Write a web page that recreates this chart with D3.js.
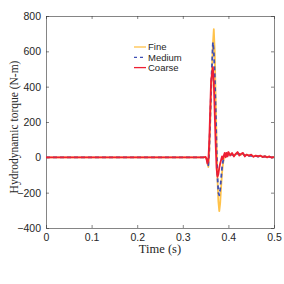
<!DOCTYPE html>
<html>
<head>
<meta charset="utf-8">
<script src="https://cdn.jsdelivr.net/npm/d3@7"></script>
<style>
  body { margin: 0; background: #fff; }
  svg { display: block; }
</style>
</head>
<body>
<div id="grafico"></div>
<script>
// --- data ---
const tempo = [0, 0.1, 0.2, 0.3, 0.345, 0.350, 0.352, 0.354, 0.356, 0.358, 0.360, 0.362, 0.364, 0.366,
  0.368, 0.370, 0.372, 0.374, 0.376, 0.378, 0.380, 0.382, 0.384, 0.386, 0.388, 0.390, 0.392, 0.394,
  0.396, 0.398, 0.400, 0.404, 0.408, 0.412, 0.416, 0.420, 0.424, 0.428, 0.432, 0.436, 0.440, 0.445,
  0.450, 0.455, 0.460, 0.465, 0.470, 0.475, 0.480, 0.485, 0.490, 0.495, 0.500];

const fine = [0, 0, 0, 0, 0, 0, -5, -30, -55, 30, 180, 350, 500, 640,
  725, 600, 350, 100, -120, -250, -305, -260, -170, -90, -40, -10, 15, 5,
  20, 10, 25, 15, 20, 10, 15, 25, 20, 15, 20, 10, 15, 10,
  12, 5, 8, 5, 8, 3, 5, 2, 4, 0, 2];

const medium = [0, 0, 0, 0, 0, 0, -5, -25, -45, 40, 200, 380, 520, 650,
  600, 470, 280, 60, -110, -200, -215, -180, -120, -60, -25, 0, 15, 5,
  20, 10, 20, 12, 18, 8, 15, 22, 18, 12, 18, 10, 14, 8,
  10, 5, 8, 4, 7, 3, 5, 2, 3, 0, 1];

const coarse = [0, 0, 0, 0, 0, 2, -10, -35, -20, 90, 260, 430, 470, 510,
  420, 250, 80, -60, -110, -95, -60, -35, -15, 5, -10, 10, 25, 0,
  25, 5, 30, 10, 25, 5, 20, 30, 10, 20, 25, 5, 15, 10,
  15, 3, 10, 5, 10, 2, 6, 0, 5, -2, 3];

const serie = [
  {nome: "Fine", valori: fine, colore: "#ffc24a", tratteggio: null},
  {nome: "Medium", valori: medium, colore: "#3f4fb5", tratteggio: "4,3"},
  {nome: "Coarse", valori: coarse, colore: "#ee1f33", tratteggio: null}
];

const tickX = [0, 0.1, 0.2, 0.3, 0.4, 0.5];
const tickY = [-400, -200, 0, 200, 400, 600, 800];

// --- layout ---
const W = 284, H = 284;
const margin = {top: 16, right: 10, bottom: 56, left: 46};
const width = W - margin.left - margin.right;
const height = H - margin.top - margin.bottom;

const svg = d3.select("#grafico").append("svg")
  .attr("width", W).attr("height", H);
const g = svg.append("g")
  .attr("transform", `translate(${margin.left},${margin.top})`);

const x = d3.scaleLinear().domain([0, 0.5]).range([0, width]);
const y = d3.scaleLinear().domain([-400, 800]).range([height, 0]);

const fontTick = "'Liberation Sans', Arial, sans-serif";
const coloreAsse = "#333";

// axes (ticks inward, mirrored)
function stileAsse(sel) {
  sel.selectAll(".domain").attr("stroke", coloreAsse).attr("stroke-width", 0.6);
  sel.selectAll(".tick line").attr("stroke", coloreAsse).attr("stroke-width", 0.6);
  sel.selectAll("text").attr("font-family", fontTick).attr("font-size", 10.5).attr("fill", "#262626");
}

g.append("g").attr("transform", `translate(0,${height})`)
  .call(d3.axisBottom(x).tickValues(tickX).tickSizeInner(-3).tickSizeOuter(0).tickPadding(6).tickFormat(d3.format("")))
  .call(stileAsse);
g.append("g")
  .call(d3.axisLeft(y).tickValues(tickY).tickSizeInner(-3).tickSizeOuter(0).tickPadding(5))
  .call(stileAsse);
g.append("g")
  .call(d3.axisTop(x).tickValues(tickX).tickSizeInner(-3).tickSizeOuter(0).tickFormat(""))
  .call(stileAsse);
g.append("g").attr("transform", `translate(${width},0)`)
  .call(d3.axisRight(y).tickValues(tickY).tickSizeInner(-3).tickSizeOuter(0).tickFormat(""))
  .call(stileAsse);

// lines
const linea = d3.line()
  .x((d, i) => x(tempo[i]))
  .y(d => y(d));

serie.forEach(s => {
  g.append("path")
    .datum(s.valori)
    .attr("fill", "none")
    .attr("stroke", s.colore)
    .attr("stroke-width", 1.8)
    .attr("stroke-linejoin", "round")
    .attr("stroke-dasharray", s.tratteggio)
    .attr("d", linea);
});

// legend
const legenda = svg.append("g").attr("transform", "translate(134,47)");
serie.forEach((s, i) => {
  const r = legenda.append("g").attr("transform", `translate(0,${i * 10.3})`);
  r.append("line")
    .attr("x1", 0).attr("x2", 12).attr("y1", 0).attr("y2", 0)
    .attr("stroke", s.colore).attr("stroke-width", 1.3)
    .attr("stroke-dasharray", s.tratteggio ? "3,3" : null);
  r.append("text")
    .attr("x", 14).attr("y", 0).attr("dy", "0.35em")
    .attr("font-family", fontTick).attr("font-size", 9.5).attr("fill", "#262626")
    .text(s.nome);
});

// axis labels
svg.append("text")
  .attr("x", margin.left + width / 2).attr("y", 253)
  .attr("text-anchor", "middle")
  .attr("font-family", "'Liberation Serif', 'Times New Roman', serif")
  .attr("font-size", 12.5).attr("fill", "#262626")
  .text("Time (s)");

svg.append("text")
  .attr("transform", "translate(18,127) rotate(-90)")
  .attr("text-anchor", "middle")
  .attr("font-family", "'Liberation Serif', 'Times New Roman', serif")
  .attr("font-size", 11.5).attr("fill", "#262626")
  .text("Hydrodynamic torque (N-m)");
</script>
</body>
</html>
